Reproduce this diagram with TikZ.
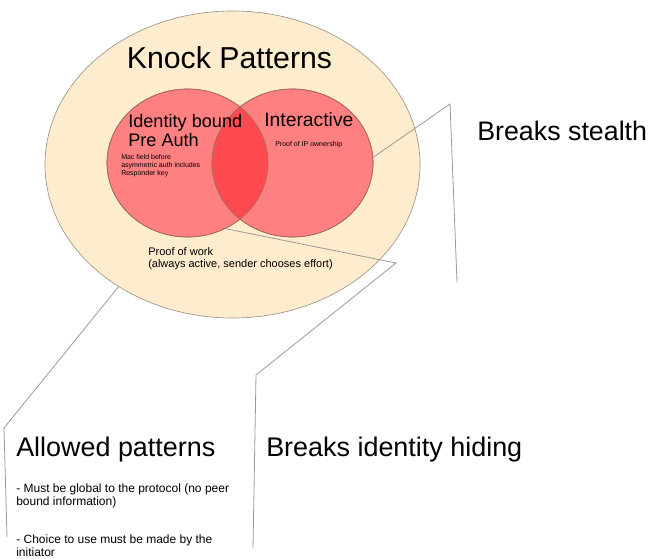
\documentclass[tikz,border=0pt]{standalone}
\usepackage{fontspec}
\setmainfont{Liberation Sans}
\usetikzlibrary{shapes.geometric}
\definecolor{beige}{HTML}{FDECCD}
\definecolor{venn}{HTML}{FF8080}
\definecolor{lens}{HTML}{FF4A50}
\definecolor{edge}{HTML}{A0958A}
\definecolor{redge}{HTML}{A86A60}
\definecolor{callout}{HTML}{9A9A9A}
\begin{document}
\begin{tikzpicture}[x=0.75pt,y=-0.75pt,
  outerset/.style={ellipse, draw=edge, fill=beige, line width=0.5pt, minimum width=281.25pt, minimum height=230.25pt, inner sep=0pt},
  vennset/.style={ellipse, draw=redge, fill=venn, line width=0.5pt, minimum width=120.75pt, minimum height=111pt, inner sep=0pt},
  vennedge/.style={draw=redge, line width=0.5pt},
  calloutline/.style={draw=callout, line width=0.6pt},
  txt/.style={inner sep=0pt, text=black, align=left},
]
\useasboundingbox (0,0) rectangle (652,559);
\node[outerset] (outer) at (232.5,164.5) {};
\node[vennset] (idb) at (187.5,163) {};
\node[vennset] (inter) at (292.5,163) {};
\begin{scope}
  \clip (idb.center) ellipse [x radius=60.375pt, y radius=55.5pt];
  \fill[lens] (inter.center) ellipse [x radius=60.375pt, y radius=55.5pt];
\end{scope}
\draw[vennedge] (idb.center) ellipse [x radius=60.375pt, y radius=55.5pt];
\draw[vennedge] (inter.center) ellipse [x radius=60.375pt, y radius=55.5pt];

\coordinate (s1) at (450,104);
\coordinate (s2) at (457,282);
\coordinate (h1) at (396,263);
\coordinate (h2) at (256,375);
\coordinate (h3) at (253,548);
\coordinate (a1) at (4,428);
\coordinate (a2) at (7,537);
\draw[calloutline] (inter.4) -- (s1) -- (s2);
\draw[calloutline] (idb.-60) -- (h1) -- (h2) -- (h3);
\draw[calloutline] (outer.227) -- (a1) -- (a2);

\node[txt, anchor=base, font=\fontsize{22.7}{26}\selectfont] (title) at (229.5,69) {Knock Patterns};
\node[txt, anchor=north west, font=\fontsize{13.6}{14.25}\selectfont] (idbl) at (128,114) {Identity bound\\Pre Auth};
\node[txt, anchor=base west, font=\fontsize{14.5}{16}\selectfont] (interl) at (264,127) {Interactive};
\node[txt, anchor=base west, font=\fontsize{5.25}{6}\selectfont] (ipl) at (275,147) {Proof of IP ownership};
\node[txt, anchor=north west, font=\fontsize{5.25}{6}\selectfont] (macl) at (121,154) {Mac field before\\asymmetric auth includes\\Responder key};
\node[txt, anchor=north west, font=\fontsize{8.25}{9}\selectfont] (powl) at (148,247) {Proof of work\\(always active, sender chooses effort)};
\node[txt, anchor=base west, font=\fontsize{20.1}{23}\selectfont] (stealth) at (477,141) {Breaks stealth};
\node[txt, anchor=base west, font=\fontsize{20.2}{24}\selectfont] (hiding) at (266,456) {Breaks identity hiding};
\node[txt, anchor=base west, font=\fontsize{20.2}{24}\selectfont] (allowed) at (16,456) {Allowed patterns};
\node[txt, anchor=north west, font=\fontsize{9}{8.25}\selectfont] (rules) at (16,484) {- Must be global to the protocol (no peer\\bound information)\\[19.5pt]- Choice to use must be made by the\\initiator};
\end{tikzpicture}
\end{document}
